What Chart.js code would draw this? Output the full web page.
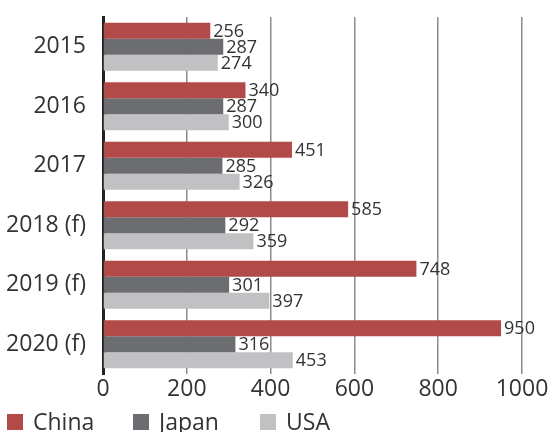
<!DOCTYPE html>
<html>
<head>
  <meta charset="utf-8">
  <style>
    html, body { margin: 0; padding: 0; background: #fff; }
    #wrap { position: relative; width: 555px; height: 432px; }
  </style>
</head>
<body>
  <div id="wrap"><canvas id="myChart"></canvas></div>

  <script src="https://cdn.jsdelivr.net/npm/chart.js@4/dist/chart.umd.min.js"></script>
  <script type="text/javascript">
    // data
    var years = ['2015', '2016', '2017', '2018 (f)', '2019 (f)', '2020 (f)'];
    var china = [256, 340, 451, 585, 748, 950];
    var japan = [287, 287, 285, 292, 301, 316];
    var usa = [274, 300, 326, 359, 397, 453];
    var xTicks = [0, 200, 400, 600, 800, 1000];

    var colors = ['#b24a49', '#6c6d70', '#c1c1c3'];
    var fontFamily = '"Open Sans", "Noto Sans", sans-serif';

    // value next to the end of each bar
    var valueLabels = {
      id: 'valueLabels',
      afterDatasetsDraw: function(chart) {
        var ctx = chart.ctx;
        ctx.save();
        ctx.font = '18px ' + fontFamily;
        ctx.fillStyle = '#333';
        ctx.textAlign = 'left';
        ctx.textBaseline = 'middle';
        chart.data.datasets.forEach(function(ds, i) {
          chart.getDatasetMeta(i).data.forEach(function(bar, j) {
            ctx.fillText(ds.data[j], bar.x + 3, bar.y + 1);
          });
        });
        ctx.restore();
      }
    };

    // legend at the bottom left, squares + names
    var bottomLegend = {
      id: 'bottomLegend',
      afterDraw: function(chart) {
        var ctx = chart.ctx;
        var xs = [7, 133, 260];
        var y = 422;
        ctx.save();
        ctx.font = '23px ' + fontFamily;
        ctx.textBaseline = 'middle';
        ctx.textAlign = 'left';
        chart.data.datasets.forEach(function(ds, i) {
          ctx.fillStyle = ds.backgroundColor;
          ctx.fillRect(xs[i], y - 8, 16, 16);
          ctx.fillStyle = '#333';
          ctx.fillText(ds.label, xs[i] + 26, y + 1);
        });
        ctx.restore();
      }
    };

    var ctx = document.getElementById('myChart').getContext('2d');
    var chart = new Chart(ctx, {
      type: 'bar',
      data: {
        labels: years,
        datasets: [
          { label: 'China', data: china, backgroundColor: colors[0] },
          { label: 'Japan', data: japan, backgroundColor: colors[1] },
          { label: 'USA', data: usa, backgroundColor: colors[2] }
        ]
      },
      options: {
        indexAxis: 'y',
        responsive: true,
        maintainAspectRatio: false,
        animation: false,
        categoryPercentage: 0.81,
        barPercentage: 1,
        layout: { padding: { top: 17, right: 33, bottom: 30, left: 0 } },
        plugins: {
          legend: { display: false },
          tooltip: { enabled: false }
        },
        scales: {
          x: {
            min: 0,
            max: 1000,
            afterBuildTicks: function(scale) {
              scale.ticks = xTicks.map(function(v) { return { value: v }; });
            },
            afterFit: function(scale) { scale.height = 28; },
            grid: { color: '#8c8c8c', lineWidth: 1.5, drawTicks: false },
            border: { display: false },
            ticks: {
              padding: 2,
              color: '#333',
              font: { family: fontFamily, size: 23 },
              callback: function(v) { return String(v); }
            }
          },
          y: {
            afterFit: function(scale) {
              scale.width = 103;
              scale.paddingTop = 0;
              scale.paddingBottom = 0;
            },
            grid: { display: false, drawTicks: false },
            border: { display: true, color: '#222', width: 3 },
            ticks: {
              padding: 17,
              color: '#333',
              font: { family: fontFamily, size: 23 }
            }
          }
        }
      },
      plugins: [valueLabels, bottomLegend]
    });
  </script>
</body>
</html>
